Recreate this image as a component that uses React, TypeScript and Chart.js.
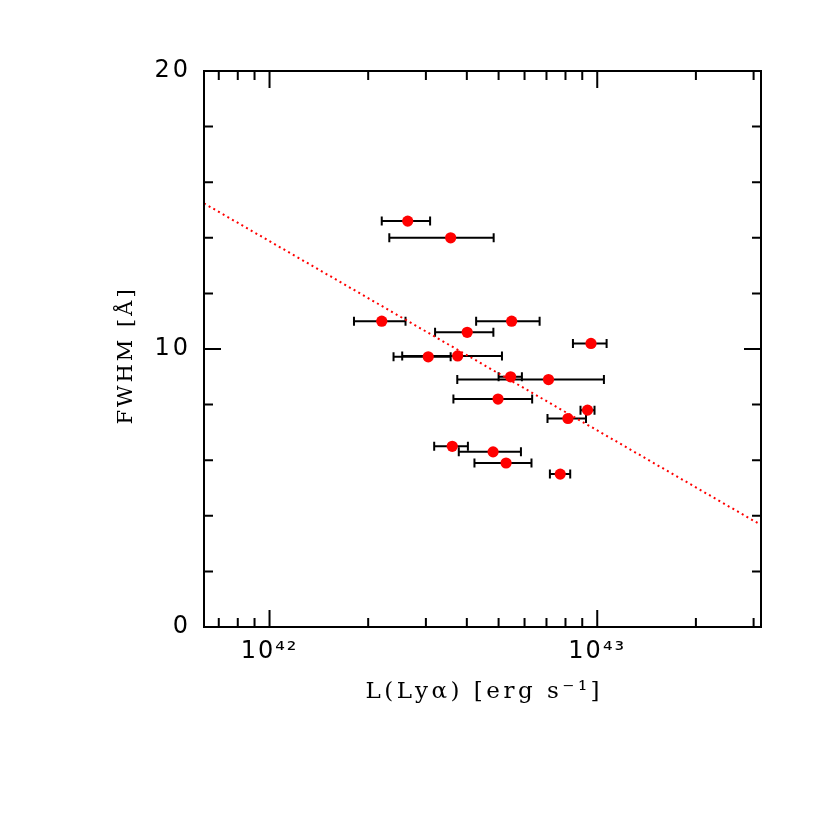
import React, { useEffect, useRef } from 'react';
import { Chart, registerables } from 'chart.js';

Chart.register(...registerables);

// ---- data ----
const L_LYA = [2.64e42, 3.57e42, 2.2e42, 5.48e42, 4.01e42, 9.57e42, 3.05e42, 3.75e42, 5.44e42, 7.1e42, 4.98e42, 9.34e42, 8.14e42, 3.61e42, 4.81e42, 5.27e42, 7.71e42];
const L_LO = [2.2e42, 2.32e42, 1.81e42, 4.27e42, 3.2e42, 8.43e42, 2.39e42, 2.54e42, 5.0e42, 3.74e42, 3.64e42, 8.89e42, 7.05e42, 3.18e42, 3.78e42, 4.22e42, 7.17e42];
const L_HI = [3.09e42, 4.83e42, 2.6e42, 6.67e42, 4.82e42, 10.68e42, 3.57e42, 5.12e42, 5.89e42, 10.48e42, 6.33e42, 9.81e42, 9.24e42, 4.03e42, 5.85e42, 6.3e42, 8.27e42];
const FWHM = [14.6, 14.0, 11.0, 11.0, 10.6, 10.2, 9.72, 9.75, 9.0, 8.9, 8.2, 7.8, 7.5, 6.5, 6.3, 5.9, 5.5];

const FIT_L = [6.31e41, 3.16e43];
const FIT_FWHM = [15.24, 3.67];

const X_MIN = 6.31e41;
const X_MAX = 3.16e43;
const X_TICKS = [7e41, 8e41, 9e41, 1e42, 2e42, 3e42, 4e42, 5e42, 6e42, 7e42, 8e42, 9e42, 1e43, 2e43, 3e43];
const X_MAJOR = [1e42, 1e43];
const X_LABELS = ['10⁴²', '10⁴³'];

const Y_MIN = 0;
const Y_MAX = 20;
const Y_TICKS = [0, 2, 4, 6, 8, 10, 12, 14, 16, 18, 20];
const Y_MAJOR = [0, 10, 20];

const X_TITLE = 'L(Lyα) [erg s⁻¹]';
const Y_TITLE = 'FWHM [Å]';

function patchLabelSpacing(scale: any, spacing: string) {
  if (!scale || scale.__lsPatched) return;
  const orig = scale.drawLabels.bind(scale);
  scale.drawLabels = (area: any) => {
    const c = scale.ctx;
    const prev = c.letterSpacing;
    c.letterSpacing = spacing;
    orig(area);
    c.letterSpacing = prev || '0px';
  };
  scale.__lsPatched = true;
}

const decor = {
  id: 'decor',
  afterLayout(chart: any) {
    patchLabelSpacing(chart.scales.y, '3px');
    patchLabelSpacing(chart.scales.x, '2px');
  },
  beforeDatasetsDraw(chart: any) {
    const ctx = chart.ctx;
    const xs = chart.scales.x;
    const ys = chart.scales.y;
    ctx.save();
    ctx.strokeStyle = '#000';
    ctx.lineWidth = 2;
    ctx.lineCap = 'butt';
    for (let i = 0; i < FWHM.length; i++) {
      const y = ys.getPixelForValue(FWHM[i]);
      const x1 = xs.getPixelForValue(L_LO[i]);
      const x2 = xs.getPixelForValue(L_HI[i]);
      ctx.beginPath();
      ctx.moveTo(x1, y);
      ctx.lineTo(x2, y);
      ctx.moveTo(x1, y - 4.5);
      ctx.lineTo(x1, y + 4.5);
      ctx.moveTo(x2, y - 4.5);
      ctx.lineTo(x2, y + 4.5);
      ctx.stroke();
    }
    ctx.restore();
  },
  afterDraw(chart: any) {
    const ctx = chart.ctx;
    const { left, right, top, bottom } = chart.chartArea;
    const xs = chart.scales.x;
    const ys = chart.scales.y;
    ctx.save();
    ctx.letterSpacing = '0px';
    ctx.strokeStyle = '#000';
    ctx.lineWidth = 2;
    ctx.strokeRect(left, top, right - left, bottom - top);
    ctx.beginPath();
    for (const t of xs.ticks) {
      const px = xs.getPixelForValue(t.value);
      const len = X_MAJOR.includes(t.value) ? 17 : 9;
      ctx.moveTo(px, bottom);
      ctx.lineTo(px, bottom - len);
      ctx.moveTo(px, top);
      ctx.lineTo(px, top + len);
    }
    for (const t of ys.ticks) {
      const py = ys.getPixelForValue(t.value);
      const len = Y_MAJOR.includes(t.value) ? 17 : 9;
      ctx.moveTo(left, py);
      ctx.lineTo(left + len, py);
      ctx.moveTo(right, py);
      ctx.lineTo(right - len, py);
    }
    ctx.stroke();

    // axis titles
    ctx.fillStyle = '#000';
    ctx.font = '23px "DejaVu Serif"';
    ctx.letterSpacing = '3.5px';
    ctx.textAlign = 'center';
    ctx.textBaseline = 'alphabetic';
    ctx.fillText(X_TITLE, (left + right) / 2 + 1.75, 698);

    ctx.translate(132, (top + bottom) / 2 + 8);
    ctx.rotate(-Math.PI / 2);
    ctx.font = '21px "DejaVu Serif"';
    ctx.letterSpacing = '3px';
    ctx.fillText(Y_TITLE, 1.5, 0);
    ctx.restore();
  },
};

export default function App() {
  const canvasRef = useRef<HTMLCanvasElement | null>(null);

  useEffect(() => {
    const canvas = canvasRef.current;
    if (!canvas) return;

    const points = L_LYA.map((x, i) => ({ x, y: FWHM[i] }));
    const fit = FIT_L.map((x, i) => ({ x, y: FIT_FWHM[i] }));

    const tickFont = { family: '"DejaVu Sans"', size: 24 };

    const chart = new Chart(canvas, {
      type: 'scatter',
      data: {
        datasets: [
          {
            label: 'data',
            data: points,
            pointRadius: 5.6,
            pointHoverRadius: 5.6,
            pointBackgroundColor: '#ff0000',
            pointBorderWidth: 0,
            borderWidth: 0,
            showLine: false,
          },
          {
            label: 'fit',
            data: fit,
            showLine: true,
            pointRadius: 0,
            borderColor: '#ff0000',
            borderWidth: 2,
            borderDash: [2, 3.4],
            borderCapStyle: 'butt',
            fill: false,
          },
        ],
      },
      options: {
        animation: false,
        responsive: false,
        maintainAspectRatio: false,
        layout: { padding: { left: 114, right: 69, top: 71, bottom: 127 } },
        plugins: {
          legend: { display: false },
          tooltip: { enabled: false },
          title: { display: false },
        },
        events: [],
        scales: {
          x: {
            type: 'logarithmic',
            min: X_MIN,
            max: X_MAX,
            afterBuildTicks: (scale: any) => {
              scale.ticks = X_TICKS.map((v) => ({ value: v, major: X_MAJOR.includes(v) }));
            },
            afterFit: (scale: any) => {
              scale.height = 76;
            },
            ticks: {
              autoSkip: false,
              maxRotation: 0,
              minRotation: 0,
              padding: 10,
              color: '#000',
              font: tickFont,
              callback: (v: any) => {
                const k = X_MAJOR.indexOf(Number(v));
                return k >= 0 ? X_LABELS[k] : '';
              },
            },
            grid: { display: false, drawTicks: false },
            border: { display: false },
          },
          y: {
            type: 'linear',
            min: Y_MIN,
            max: Y_MAX,
            afterBuildTicks: (scale: any) => {
              scale.ticks = Y_TICKS.map((v) => ({ value: v, major: Y_MAJOR.includes(v) }));
            },
            afterFit: (scale: any) => {
              scale.width = 90;
            },
            ticks: {
              autoSkip: false,
              padding: 13,
              color: '#000',
              font: tickFont,
              callback: (v: any) => (Y_MAJOR.includes(Number(v)) ? String(v) : ''),
            },
            grid: { display: false, drawTicks: false },
            border: { display: false },
          },
        },
      },
      plugins: [decor],
    } as any);

    return () => {
      chart.destroy();
    };
  }, []);

  return (
    <div style={{ position: 'absolute', left: 0, top: 0, width: 830, height: 830, background: '#fff' }}>
      <canvas ref={canvasRef} width={830} height={830} style={{ width: 830, height: 830, display: 'block' }} />
    </div>
  );
}
